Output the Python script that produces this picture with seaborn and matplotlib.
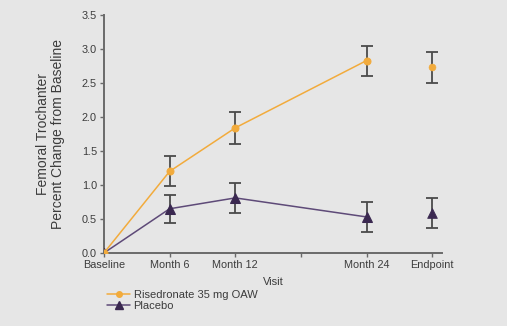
import matplotlib
matplotlib.use("Agg")
import matplotlib.pyplot as plt
from matplotlib.lines import Line2D
import seaborn as sns
import pandas as pd

# ---- data ----
tick_labels = ["Baseline", "Month 6", "Month 12", "", "Month 24", "Endpoint"]
line_visits = ["Baseline", "Month 6", "Month 12", "Month 24"]
rise_line = [0.0, 1.20, 1.84, 2.83]
rise_line_err = [0.0, 0.22, 0.23, 0.22]
plac_line = [0.0, 0.65, 0.81, 0.53]
plac_line_err = [0.0, 0.21, 0.22, 0.22]
rise_endpoint = 2.73
rise_endpoint_err = 0.23
plac_endpoint = 0.59
plac_endpoint_err = 0.22
series_names = ["Risedronate 35 mg OAW", "Placebo"]

BG = "#e6e6e6"
ORANGE = "#f2ab3c"
PURPLE_LINE = "#5e4a78"
PURPLE_MK = "#3a2850"
ERR = "#4a4a4a"
TXT = "#3c3c3c"
SPINE = "#6a6a6a"

sns.set_style("ticks")
plt.rcParams["font.family"] = ["Liberation Sans", "DejaVu Sans"]

fig = plt.figure(figsize=(5.07, 3.26), dpi=100, facecolor=BG)
ax = fig.add_axes([0.205, 0.224, 0.667, 0.730])
ax.set_facecolor(BG)

def xpos(name):
    return tick_labels.index(name)

df = pd.DataFrame({
    "x": [xpos(v) for v in line_visits] * 2,
    "y": rise_line + plac_line,
    "err": rise_line_err + plac_line_err,
    "series": [series_names[0]] * len(line_visits) + [series_names[1]] * len(line_visits),
})

# error bars first (behind)
for name, mean_list, err_list, emean, eerr in [
    (series_names[0], rise_line, rise_line_err, rise_endpoint, rise_endpoint_err),
    (series_names[1], plac_line, plac_line_err, plac_endpoint, plac_endpoint_err),
]:
    xs = [xpos(v) for v in line_visits][1:] + [xpos("Endpoint")]
    ys = mean_list[1:] + [emean]
    es = err_list[1:] + [eerr]
    ax.errorbar(xs, ys, yerr=es, fmt="none", ecolor=ERR, elinewidth=1.3,
                capsize=4, capthick=1.3, zorder=2)

sns.lineplot(data=df[df.series == series_names[0]], x="x", y="y", ax=ax,
             color=ORANGE, lw=1.1, marker="o", markersize=5,
             markeredgecolor=ORANGE, zorder=4, legend=False)
sns.lineplot(data=df[df.series == series_names[1]], x="x", y="y", ax=ax,
             color=PURPLE_LINE, lw=1.1, marker="^", markersize=7,
             markerfacecolor=PURPLE_MK, markeredgecolor=PURPLE_MK, zorder=3, legend=False)
# endpoints (unconnected)
sns.scatterplot(x=[xpos("Endpoint")], y=[rise_endpoint], ax=ax, color=ORANGE,
                marker="o", s=25, edgecolor=ORANGE, zorder=4, legend=False)
sns.scatterplot(x=[xpos("Endpoint")], y=[plac_endpoint], ax=ax, color=PURPLE_MK,
                marker="^", s=49, edgecolor=PURPLE_MK, zorder=3, legend=False)

ax.set_xlim(0, 5.15)
ax.set_ylim(0, 3.5)
ax.set_xticks(range(len(tick_labels)))
ax.set_xticklabels(tick_labels)
ax.set_yticks([0, 0.5, 1.0, 1.5, 2.0, 2.5, 3.0, 3.5])
ax.set_yticklabels(["0.0", "0.5", "1.0", "1.5", "2.0", "2.5", "3.0", "3.5"])
ax.tick_params(axis="both", labelsize=7.8, colors=TXT, length=3, width=1, pad=2)
ax.tick_params(axis="both", color=SPINE)
for s in ["top", "right"]:
    ax.spines[s].set_visible(False)
for s in ["left", "bottom"]:
    ax.spines[s].set_color(SPINE)
    ax.spines[s].set_linewidth(1.4)

ax.set_xlabel("Visit", fontsize=8, color=TXT, labelpad=5)
ax.set_ylabel("Femoral Trochanter\nPercent Change from Baseline", fontsize=10,
              color=TXT, labelpad=12, linespacing=1.1)

handles = [
    Line2D([], [], color=ORANGE, lw=1.1, marker="o", markersize=4,
           markeredgecolor=ORANGE),
    Line2D([], [], color=PURPLE_LINE, lw=1.1, marker="^", markersize=6,
           markerfacecolor=PURPLE_MK, markeredgecolor=PURPLE_MK),
]
fig.legend(handles, series_names, loc="upper left", bbox_to_anchor=(0.212, 0.11),
           frameon=False, fontsize=8, handlelength=2.0, handletextpad=0.35,
           labelspacing=0.05, borderaxespad=0, borderpad=0, labelcolor=TXT)

fig.savefig("out.png", dpi=100, facecolor=BG)
